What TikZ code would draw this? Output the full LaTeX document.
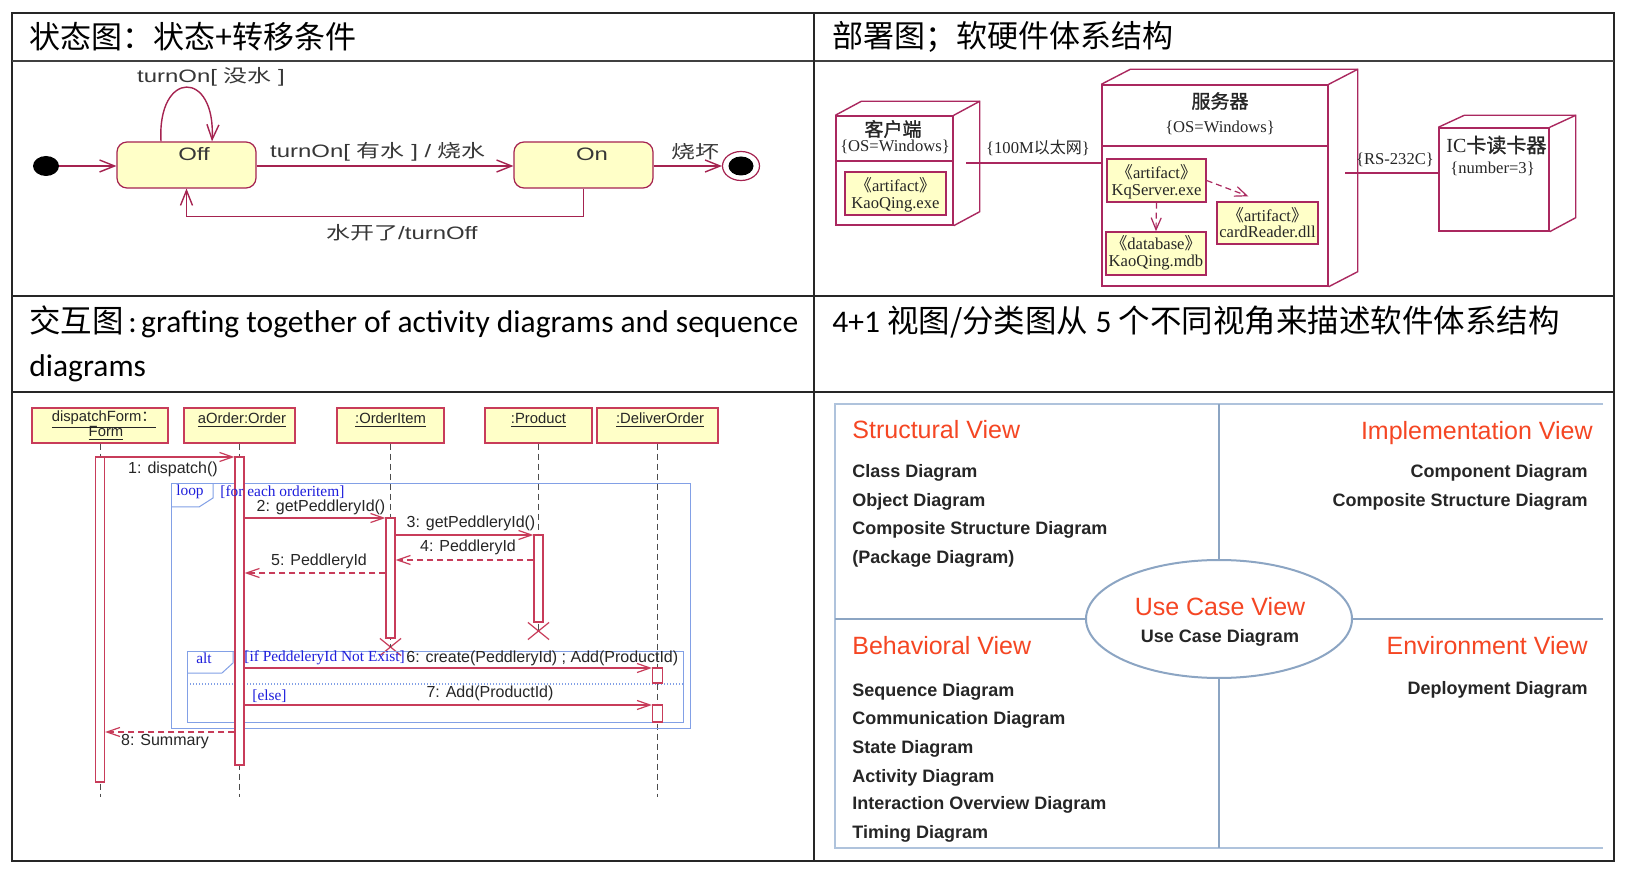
\documentclass[tikz,border=0pt]{standalone}
\usepackage{fontspec}
\usetikzlibrary{arrows.meta,shapes.geometric,shapes.misc,calc}
\newfontfamily\cjk{Noto Sans CJK SC}
\newfontfamily\cjkb[FakeBold=1.2]{Noto Sans CJK SC}
\newfontfamily\arialf{Liberation Sans}
\newfontfamily\tnr{Liberation Serif}
\newfontfamily\calib{Carlito}
\newcommand{\myfs}[1]{\fontsize{#1}{#1}\selectfont}
\definecolor{stc}{RGB}{165,35,80}
\definecolor{stfill}{RGB}{255,255,200}
\definecolor{txtg}{RGB}{55,55,55}
\definecolor{depc}{RGB}{170,40,95}
\definecolor{seqc}{RGB}{200,60,90}
\definecolor{seqfill}{RGB}{255,255,200}
\definecolor{frm}{RGB}{130,160,230}
\definecolor{frmtxt}{RGB}{30,30,220}
\definecolor{vw}{RGB}{245,70,35}
\definecolor{vline}{RGB}{140,165,195}
\definecolor{vfr}{RGB}{175,195,220}
\tikzset{
  tbl/.style={draw=black!85, line width=1pt},
  hdr/.style={anchor=west, inner sep=0},
  stbox/.style={draw=stc, fill=stfill, rounded corners=5pt, minimum width=69.5pt, minimum height=23pt, line width=0.6pt, inner sep=0},
  sttext/.style={inner sep=0, text=txtg, font={\arialf\myfs{9}}},
  starr/.style={draw=stc, line width=0.7pt, -{Straight Barb[length=7.5pt,width=6pt]}},
  depbox/.style={draw=depc, line width=0.7pt, inner sep=0, fill=white},
  depside/.style={draw=depc, line width=0.7pt},
  artbox/.style={draw=depc, fill=stfill, line width=0.7pt, inner sep=0},
  deptxt/.style={inner sep=0, font={\tnr\myfs{8.3}}, text=black!85, align=center},
  deparr/.style={draw=depc, line width=0.6pt, dash pattern=on 3pt off 2pt, -{Straight Barb[length=6pt,width=5pt]}},
  depline/.style={draw=depc, line width=0.7pt},
  seqbox/.style={draw=seqc, fill=seqfill, line width=0.6pt, inner sep=0, minimum height=17.5pt},
  seqtxt/.style={inner sep=0, font={\arialf\myfs{7.4}}, text=black!85},
  lifeline/.style={draw=black!70, line width=0.5pt, dash pattern=on 3pt off 2pt},
  bar/.style={draw=seqc, fill=white, line width=0.6pt, inner sep=0, minimum width=4.5pt},
  msg/.style={draw=seqc, line width=0.6pt, -{Straight Barb[length=6.5pt,width=4.5pt]}},
  ret/.style={msg, dash pattern=on 3pt off 2pt},
  msgtxt/.style={inner sep=0, font={\arialf\myfs{8}}, text=black!85},
  frame/.style={draw=frm, line width=0.5pt},
  frmtext/.style={inner sep=0, font={\tnr\myfs{7.7}}, text=frmtxt},
  xmark/.style={draw=seqc, cross out, minimum width=10pt, minimum height=8pt, inner sep=0, line width=0.6pt},
  vdiv/.style={draw=vline, line width=0.9pt},
  vtitle/.style={text=vw, font={\arialf\myfs{12.5}}, inner sep=0},
  vitem/.style={text=black!85, font={\arialf\bfseries\myfs{9}}, inner sep=0}
}
\begin{document}
\begin{tikzpicture}[x=0.5pt,y=-0.5pt]
\useasboundingbox (0,0) rectangle (1630,882);
\fill[white] (0,0) rectangle (1630,882);

% ---------------- table ----------------
\draw[tbl] (12,13) rectangle (1614,861);
\draw[tbl, line width=1.3pt, draw=black!75] (12,61) -- (1614,61);
\draw[tbl] (12,296) -- (1614,296);
\draw[tbl] (12,392) -- (1614,392);
\draw[tbl] (814,13) -- (814,861);

\node[hdr] (h1) at (29,37) {\cjk\myfs{15.5}状态图：状态+转移条件};
\node[hdr] (h2) at (832,37) {\cjk\myfs{15.5}部署图；软硬件体系结构};
\node[hdr] (h3) at (29,322) {\calib\myfs{15.75}{\cjk 交互图}\makebox[0.55em][c]{:}grafting together of activity diagrams and sequence};
\node[hdr] (h3b) at (29,368) {\calib\myfs{15.75}diagrams};
\node[hdr] (h4) at (832,322) {\calib\myfs{15.75}4+1 {\cjk 视图/分类图从} 5 {\cjk 个不同视角来描述软件体系结构}};

% ---------------- state diagram ----------------
\node[stbox] (off) at (186.5,165) {};
\node[sttext] (offt) at (194,154) {\scalebox{1.33}[1]{Off}};
\node[stbox] (on) at (583.5,165) {};
\node[sttext] (ont) at (592,154) {\scalebox{1.33}[1]{On}};
\node[ellipse, fill=black, minimum width=13pt, minimum height=10pt, inner sep=0] (init) at (46,166) {};
\node[ellipse, draw=stc, fill=white, minimum width=18.5pt, minimum height=14.5pt, inner sep=0, line width=0.6pt] (fin) at (741,166) {};
\node[ellipse, fill=black, minimum width=12.5pt, minimum height=9.5pt, inner sep=0] (finin) at (741,166) {};

\draw[starr] (init) -- (off.west |- init);
\draw[starr] (off.east |- init) -- (on.west |- init);
\draw[starr] (on.east |- fin) -- (fin);
\draw[starr] ([xshift=-12.75pt]off.north) .. controls +(-4,-72) and +(4,-72) .. ([xshift=12.75pt]off.north);
\draw[starr] (on.south) -- ++(0,28) -| (off.south);

\node[sttext] (lbl1) at (378,152) {\scalebox{1.33}[1]{turnOn[ {\cjk 有水} ] / {\cjk 烧水}}};
\node[sttext] (lbl2) at (211,77) {\scalebox{1.33}[1]{turnOn[ {\cjk 没水} ]}};
\node[sttext] (lbl3) at (402,233) {\scalebox{1.33}[1]{{\cjk 水开了}/turnOff}};
\node[sttext] (lbl4) at (695,152) {\scalebox{1.33}[1]{\cjk 烧坏}};

% ---------------- deployment diagram ----------------
% client
\node[depbox, minimum width=58.5pt, minimum height=54.5pt] (client) at (894.5,170.5) {};
\draw[depside] (client.north west) -- ++(26,-14) -- ($(client.north east)+(26,-14)$) -- ($(client.south east)+(26,-14)$) -- (client.south east);
\draw[depside] (client.north east) -- ++(26,-14);
\draw[depside] (client.west |- 0,161) -- (client.east |- 0,161);
\node[deptxt] (clt) at (893,129) {\cjkb\myfs{9.5}客户端};
\node[deptxt] (clos) at (895,147) {\{OS=Windows\}};
\node[artbox, minimum width=50.5pt, minimum height=21.5pt] (cart) at (895.5,193.5) {};
\node[deptxt, align=center] (cartt) at (895.5,194.5) {\baselineskip=11.5pt{\cjk 《}artifact{\cjk 》}\\KaoQing.exe};

% server
\node[depbox, minimum width=113pt, minimum height=100.5pt] (server) at (1215,185.5) {};
\draw[depside] (server.north west) -- ++(29,-15) -- ($(server.north east)+(29,-15)$) -- ($(server.south east)+(29,-15)$) -- (server.south east);
\draw[depside] (server.north east) -- ++(29,-15);
\draw[depside] (server.west |- 0,146) -- (server.east |- 0,146);
\node[deptxt] (svt) at (1220,101) {\cjkb\myfs{9.5}服务器};
\node[deptxt] (svos) at (1220,128) {\{OS=Windows\}};

\node[artbox, minimum width=49.5pt, minimum height=21.5pt] (kq) at (1156.5,180.5) {};
\node[deptxt] (kqt) at (1156.5,181.5) {\baselineskip=11.5pt{\cjk 《}artifact{\cjk 》}\\KqServer.exe};
\node[artbox, minimum width=50pt, minimum height=21.5pt] (db) at (1156,253.5) {};
\node[deptxt] (dbt) at (1156,252.5) {\baselineskip=10.5pt{\cjk 《}database{\cjk 》}\\KaoQing.mdb};
\node[artbox, minimum width=50.5pt, minimum height=21pt] (card) at (1267.5,223) {};
\node[deptxt] (cardt) at (1267.5,222.5) {\baselineskip=10.5pt{\cjk 《}artifact{\cjk 》}\\cardReader.dll};
\draw[deparr] (kq.east) -- ([xshift=16pt,yshift=2.5pt]card.north west);
\draw[deparr] (kq.south) -- (db.north);

% IC reader
\node[depbox, minimum width=55pt, minimum height=51.5pt] (ic) at (1494,179.5) {};
\draw[depside] (ic.north west) -- ++(26,-12) -- ($(ic.north east)+(26,-12)$) -- ($(ic.south east)+(26,-14)$) -- (ic.south east);
\draw[depside] (ic.north east) -- ++(26,-12);
\node[deptxt, anchor=west] (ict) at (1446,145) {\myfs{10}IC{\cjkb 卡读卡器}};
\node[deptxt, anchor=west] (icn) at (1450,169) {\{number=3\}};

\coordinate (c1) at (966,163);
\coordinate (c2) at (1345,173);
\draw[depline] (c1) -- (server.west |- c1);
\draw[depline] (c2) -- (ic.west |- c2);
\node[deptxt] (l100) at (1038,148) {\{100M{\cjk\myfs{8}以太网}\}};
\node[deptxt] (lrs) at (1395,160) {\{RS-232C\}};

% ---------------- sequence diagram ----------------
\coordinate (yend) at (0,797);
\node[seqbox, minimum width=68pt] (df) at (100,425.5) {};
\node[seqbox, minimum width=55.5pt] (ao) at (239.5,425.5) {};
\node[seqbox, minimum width=53.5pt] (oi) at (390.5,425.5) {};
\node[seqbox, minimum width=53.5pt] (pr) at (538.5,425.5) {};
\node[seqbox, minimum width=60.5pt] (dlv) at (657.5,425.5) {};
\node[seqtxt] (dft1) at (104,420) {\underline{dispatchForm{\cjk ：}}};
\node[seqtxt] (dft2) at (106,433) {\underline{Form}};
\node[seqtxt] (aot) at (242,420) {\underline{aOrder:Order}};
\node[seqtxt] (oit) at (390.5,420) {\underline{:OrderItem}};
\node[seqtxt] (prt) at (538.5,420) {\underline{:Product}};
\node[seqtxt] (dlt) at (660,420) {\underline{:DeliverOrder}};

\node[xmark] (oiX) at (390.5,647) {};
\node[xmark] (prX) at (538.5,631) {};

\draw[lifeline] (df.south) -- (df.south |- yend);
\draw[lifeline] (ao.south) -- (ao.south |- yend);
\draw[lifeline] (oi.south) -- (oiX.center);
\draw[lifeline] (pr.south) -- (prX.center);
\draw[lifeline] (dlv.south) -- (dlv.south |- yend);

% frames
\draw[frame] (171,484) rectangle (690,728);
\draw[frame] (171,507) -- (199,507) -- (213,498) -- (213,484);
\draw[frame] (187,651) rectangle (683,722);
\draw[frame] (187,673) -- (222,673) -- (233,663) -- (233,651);
\draw[frame, densely dotted, line width=0.6pt] (187,684) -- (683,684);

\node[bar, minimum height=162.5pt] (dfb) at (100,619.5) {};
\node[bar, minimum height=154pt] (aob) at (239.5,611) {};
\node[bar, minimum height=60pt] (oib) at (390.5,578) {};
\node[bar, minimum height=43.5pt] (prb) at (538.5,578.5) {};
\node[bar, minimum width=5pt, minimum height=7.5pt] (db1) at (657.5,675.5) {};
\node[bar, minimum width=5pt, minimum height=8.5pt] (db2) at (657.5,713.5) {};

\node[frmtext] (loopt) at (190,492) {loop};
\node[frmtext, anchor=west] (lg) at (220,492) {[for each orderitem]};
\node[frmtext] (altt) at (204,658) {alt};
\node[frmtext, anchor=west] (ag) at (244,658) {[if PeddeleryId Not Exist]};
\node[frmtext, anchor=west] (else) at (252,696) {[else]};

\coordinate (y1) at (0,457);
\coordinate (y2) at (0,518);
\coordinate (y3) at (0,535);
\coordinate (y4) at (0,560);
\coordinate (y5) at (0,573);
\coordinate (y6) at (0,668);
\coordinate (y7) at (0,705);
\coordinate (y8) at (0,732);
\draw[msg] (dfb.east |- y1) -- (aob.west |- y1);
\draw[msg] (aob.east |- y2) -- (oib.west |- y2);
\draw[msg] (oib.east |- y3) -- (prb.west |- y3);
\draw[ret] (prb.west |- y4) -- (oib.east |- y4);
\draw[ret] (oib.west |- y5) -- (aob.east |- y5);
\draw[msg] (aob.east |- y6) -- (db1.west |- y6);
\draw[msg] (aob.east |- y7) -- (db2.west |- y7);
\draw[ret] (aob.west |- y8) -- (dfb.east |- y8);

\node[msgtxt] (l1) at (173,469) {1: dispatch()};
\node[msgtxt] (l2) at (321,507) {2: getPeddleryId()};
\node[msgtxt] (l3) at (471,523) {3: getPeddleryId()};
\node[msgtxt] (l4) at (468,547) {4: PeddleryId};
\node[msgtxt] (l5) at (319,561) {5: PeddleryId};
\node[msgtxt, anchor=west] (l6) at (406,658) {6: create(PeddleryId) ; Add(ProductId)};
\node[msgtxt] (l7) at (490,693) {7: Add(ProductId)};
\node[msgtxt] (l8) at (165,742) {8: Summary};

% ---------------- 4+1 view ----------------
\draw[draw=vfr, line width=0.9pt] (1603,404) -- (835,404) -- (835,848) -- (1603,848);
\node[ellipse, draw=vline, line width=1pt, fill=white, minimum width=133pt, minimum height=59pt, inner sep=0] (uc) at (1219,619) {};
\draw[vdiv] (uc.north) -- (uc.north |- 0,404);
\draw[vdiv] (uc.south) -- (uc.south |- 0,848);
\draw[vdiv] (uc.west) -- (uc.west -| 835,0);
\draw[vdiv] (uc.east) -- (uc.east -| 1603,0);

\node[vtitle, anchor=west] (sv) at (852,430) {Structural View};
\node[vitem, anchor=west] (sv1) at (852,473) {Class Diagram};
\node[vitem, anchor=west] (sv2) at (852,502) {Object Diagram};
\node[vitem, anchor=west] (sv3) at (852,530) {Composite Structure Diagram};
\node[vitem, anchor=west] (sv4) at (852,559) {(Package Diagram)};
\node[vtitle, anchor=west] (bv) at (852,646) {Behavioral View};
\node[vitem, anchor=west] (bv1) at (852,692) {Sequence Diagram};
\node[vitem, anchor=west] (bv2) at (852,720) {Communication Diagram};
\node[vitem, anchor=west] (bv3) at (852,749) {State Diagram};
\node[vitem, anchor=west] (bv4) at (852,778) {Activity Diagram};
\node[vitem, anchor=west] (bv5) at (852,805) {Interaction Overview Diagram};
\node[vitem, anchor=west] (bv6) at (852,834) {Timing Diagram};
\node[vtitle, anchor=east] (iv) at (1593,433) {Implementation View};
\node[vitem, anchor=east] (iv1) at (1588,473) {Component Diagram};
\node[vitem, anchor=east] (iv2) at (1588,502) {Composite Structure Diagram};
\node[vtitle, anchor=east] (ev) at (1588,646) {Environment View};
\node[vitem, anchor=east] (ev1) at (1588,690) {Deployment Diagram};
\node[vtitle] (ucv) at (1220,607) {Use Case View};
\node[vitem] (ucd) at (1220,638) {Use Case Diagram};
\end{tikzpicture}
\end{document}
